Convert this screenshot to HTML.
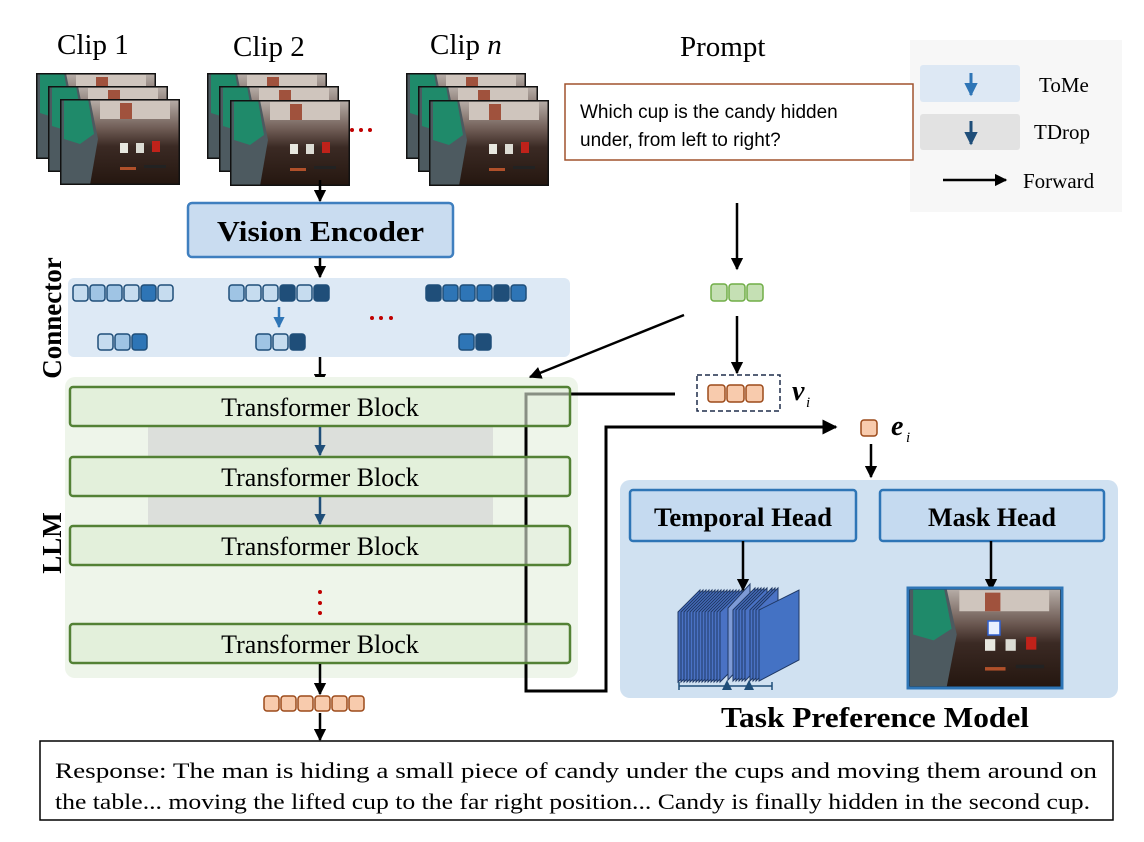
<!DOCTYPE html>
<html><head><meta charset="utf-8"><style>
html,body{margin:0;padding:0;background:#fff;}
svg{display:block;}
.s{font-family:"Liberation Serif",serif;}
.a{font-family:"Liberation Sans",sans-serif;}
</style></head><body>
<svg width="1144" height="842" viewBox="0 0 1144 842" xmlns="http://www.w3.org/2000/svg">
<defs>
<marker id="ar" viewBox="0 0 10 10" refX="9" refY="5" markerWidth="5" markerHeight="5" orient="auto"><path d="M0,0 L10,5 L0,10 z" fill="#000"/></marker>
<marker id="ab" viewBox="0 0 10 10" refX="9" refY="5" markerWidth="4.5" markerHeight="4.5" orient="auto"><path d="M0,0 L10,5 L0,10 z" fill="#2e75b6"/></marker>
<marker id="ad" viewBox="0 0 10 10" refX="9" refY="5" markerWidth="4.5" markerHeight="4.5" orient="auto"><path d="M0,0 L10,5 L0,10 z" fill="#1f4e79"/></marker>
<linearGradient id="tab" x1="0" y1="0" x2="0" y2="1"><stop offset="0" stop-color="#b9b0aa"/><stop offset="0.35" stop-color="#6d5a53"/><stop offset="0.55" stop-color="#3b2a24"/><stop offset="1" stop-color="#24160f"/></linearGradient>
<symbol id="fr" viewBox="0 0 120 86">
<rect x="0" y="0" width="120" height="86" fill="url(#tab)"/>
<rect x="40" y="2" width="70" height="18" fill="#cfc5bd"/>
<rect x="60" y="4" width="12" height="16" fill="#a0523d"/>
<path d="M0,0 L30,0 L38,40 L30,86 L0,86z" fill="#4d5a60"/>
<path d="M4,0 L28,0 L34,35 L20,45 L4,40z" fill="#1f8a6a"/>
<rect x="60" y="44" width="8" height="10" fill="#e8e8e0"/>
<rect x="76" y="44" width="8" height="10" fill="#dcdcd4"/>
<rect x="92" y="42" width="8" height="11" fill="#c0221a"/>
<rect x="60" y="68" width="16" height="3" fill="#b0502a"/>
<rect x="84" y="66" width="22" height="3" fill="#222"/>
<rect x="0" y="0" width="120" height="86" fill="none" stroke="#111" stroke-width="3"/>
</symbol>
</defs>

<text x="57" y="54" class="s" font-size="29">Clip 1</text>
<text x="233" y="56" class="s" font-size="29">Clip 2</text>
<text x="430" y="54" class="s" font-size="29">Clip <tspan font-style="italic">n</tspan></text>
<text x="680" y="56" class="s" font-size="29">Prompt</text>

<use href="#fr" x="36" y="73" width="120" height="86"/>
<use href="#fr" x="48" y="86" width="120" height="86"/>
<use href="#fr" x="60" y="99" width="120" height="86"/>
<use href="#fr" x="207" y="73" width="120" height="86"/>
<use href="#fr" x="219" y="86" width="120" height="86"/>
<use href="#fr" x="230" y="100" width="120" height="86"/>
<use href="#fr" x="406" y="73" width="120" height="86"/>
<use href="#fr" x="418" y="86" width="120" height="86"/>
<use href="#fr" x="429" y="100" width="120" height="86"/>
<g fill="#c00000"><circle cx="352" cy="130" r="2"/><circle cx="361" cy="130" r="2"/><circle cx="370" cy="130" r="2"/></g>

<!-- legend -->
<rect x="910" y="40" width="212" height="172" fill="#f7f7f7"/>
<rect x="920" y="65" width="100" height="37" rx="3" fill="#dde8f4"/>
<rect x="920" y="114" width="100" height="36" rx="3" fill="#e2e2e2"/>
<line x1="971" y1="73" x2="971" y2="95" stroke="#2e75b6" stroke-width="3" marker-end="url(#ab)"/>
<line x1="971" y1="121" x2="971" y2="144" stroke="#1f4e79" stroke-width="3" marker-end="url(#ad)"/>
<text x="1039" y="92" class="s" font-size="21">ToMe</text>
<text x="1034" y="139" class="s" font-size="21">TDrop</text>
<line x1="943" y1="180" x2="1006" y2="180" stroke="#000" stroke-width="2.5" marker-end="url(#ar)"/>
<text x="1023" y="188" class="s" font-size="21">Forward</text>

<!-- prompt box -->
<rect x="565" y="84" width="348" height="76" fill="#fff" stroke="#a0522d" stroke-width="1.5"/>
<text x="580" y="118" class="a" font-size="19">Which cup is the candy hidden</text>
<text x="580" y="146" class="a" font-size="19">under, from left to right?</text>

<line x1="320" y1="180" x2="320" y2="201" stroke="#000" stroke-width="2.5" marker-end="url(#ar)"/>
<rect x="188" y="203" width="265" height="54" rx="4" fill="#c9dcf0" stroke="#3f7fbf" stroke-width="2.5"/>
<text x="320.5" y="241" class="s" font-size="28" font-weight="bold" text-anchor="middle" textLength="207" lengthAdjust="spacingAndGlyphs">Vision Encoder</text>
<line x1="320" y1="258" x2="320" y2="277" stroke="#000" stroke-width="2.5" marker-end="url(#ar)"/>

<rect x="68" y="278" width="502" height="79" rx="6" fill="#dde9f5"/>
<g stroke="#1f4e79" stroke-width="1.5">
<rect x="73" y="285" width="15" height="16" rx="3" fill="#c6dcef"/><rect x="90" y="285" width="15" height="16" rx="3" fill="#9fc4e4"/><rect x="107" y="285" width="15" height="16" rx="3" fill="#9fc4e4"/><rect x="124" y="285" width="15" height="16" rx="3" fill="#c6dcef"/><rect x="141" y="285" width="15" height="16" rx="3" fill="#2e75b6"/><rect x="158" y="285" width="15" height="16" rx="3" fill="#c6dcef"/>
<rect x="229" y="285" width="15" height="16" rx="3" fill="#9fc4e4"/><rect x="246" y="285" width="15" height="16" rx="3" fill="#c6dcef"/><rect x="263" y="285" width="15" height="16" rx="3" fill="#c6dcef"/><rect x="280" y="285" width="15" height="16" rx="3" fill="#1f4e79"/><rect x="297" y="285" width="15" height="16" rx="3" fill="#c6dcef"/><rect x="314" y="285" width="15" height="16" rx="3" fill="#1f4e79"/>
<rect x="426" y="285" width="15" height="16" rx="3" fill="#1f4e79"/><rect x="443" y="285" width="15" height="16" rx="3" fill="#2e75b6"/><rect x="460" y="285" width="15" height="16" rx="3" fill="#2e75b6"/><rect x="477" y="285" width="15" height="16" rx="3" fill="#2e75b6"/><rect x="494" y="285" width="15" height="16" rx="3" fill="#1f4e79"/><rect x="511" y="285" width="15" height="16" rx="3" fill="#2e75b6"/>
<rect x="98" y="334" width="15" height="16" rx="3" fill="#c6dcef"/><rect x="115" y="334" width="15" height="16" rx="3" fill="#9fc4e4"/><rect x="132" y="334" width="15" height="16" rx="3" fill="#2e75b6"/>
<rect x="256" y="334" width="15" height="16" rx="3" fill="#9fc4e4"/><rect x="273" y="334" width="15" height="16" rx="3" fill="#c6dcef"/><rect x="290" y="334" width="15" height="16" rx="3" fill="#1f4e79"/>
<rect x="459" y="334" width="15" height="16" rx="3" fill="#2e75b6"/><rect x="476" y="334" width="15" height="16" rx="3" fill="#1f4e79"/>
</g>
<line x1="279" y1="307" x2="279" y2="327" stroke="#2e75b6" stroke-width="2.5" marker-end="url(#ab)"/>
<g fill="#c00000"><circle cx="372" cy="318" r="2"/><circle cx="381" cy="318" r="2"/><circle cx="391" cy="318" r="2"/></g>
<text transform="translate(61,318) rotate(-90)" class="s" font-size="27" font-weight="bold" text-anchor="middle">Connector</text>
<line x1="320" y1="357" x2="320" y2="385" stroke="#000" stroke-width="2.5" marker-end="url(#ar)"/>

<rect x="65" y="377" width="513" height="301" rx="10" fill="#eef5ea"/>
<text transform="translate(61,543) rotate(-90)" class="s" font-size="27" font-weight="bold" text-anchor="middle">LLM</text>
<rect x="148" y="426" width="345" height="31" fill="#dcdfdb"/>
<rect x="148" y="496" width="345" height="30" fill="#dcdfdb"/>
<path d="M675,394 L526,394 L526,691 L606,691 L606,427 L836,427" fill="none" stroke="#000" stroke-width="3" marker-end="url(#ar)"/>
<g fill="#e2efda" fill-opacity="0.6" stroke="#538135" stroke-width="2.5">
<rect x="70" y="387" width="500" height="39" rx="3"/>
<rect x="70" y="457" width="500" height="39" rx="3"/>
<rect x="70" y="526" width="500" height="39" rx="3"/>
<rect x="70" y="624" width="500" height="39" rx="3"/>
</g>
<g fill="#e2efda" fill-opacity="0.9">
<rect x="72" y="389" width="452" height="35"/><rect x="72" y="459" width="452" height="35"/><rect x="72" y="528" width="452" height="35"/><rect x="72" y="626" width="452" height="35"/>
</g>
<g class="s" font-size="26" text-anchor="middle">
<text x="320" y="416">Transformer Block</text>
<text x="320" y="486">Transformer Block</text>
<text x="320" y="555">Transformer Block</text>
<text x="320" y="653">Transformer Block</text>
</g>
<line x1="320" y1="427" x2="320" y2="455" stroke="#1f4e79" stroke-width="2.5" marker-end="url(#ad)"/>
<line x1="320" y1="497" x2="320" y2="524" stroke="#1f4e79" stroke-width="2.5" marker-end="url(#ad)"/>
<g fill="#c00000"><circle cx="320" cy="592" r="2"/><circle cx="320" cy="603" r="2"/><circle cx="320" cy="613" r="2"/></g>
<line x1="320" y1="664" x2="320" y2="694" stroke="#000" stroke-width="2.5" marker-end="url(#ar)"/>
<g fill="#f8cbad" stroke="#9c4a1a" stroke-width="1.5">
<rect x="264" y="696" width="15" height="15" rx="3"/><rect x="281" y="696" width="15" height="15" rx="3"/><rect x="298" y="696" width="15" height="15" rx="3"/><rect x="315" y="696" width="15" height="15" rx="3"/><rect x="332" y="696" width="15" height="15" rx="3"/><rect x="349" y="696" width="15" height="15" rx="3"/>
</g>
<line x1="320" y1="713" x2="320" y2="740" stroke="#000" stroke-width="2.5" marker-end="url(#ar)"/>

<rect x="40" y="741" width="1073" height="79" fill="#fff" stroke="#000" stroke-width="1.5"/>
<text x="55" y="778" class="s" font-size="22" textLength="1042" lengthAdjust="spacingAndGlyphs">Response: The man is hiding a small piece of candy under the cups and moving them around on</text>
<text x="55" y="809" class="s" font-size="22" textLength="1035" lengthAdjust="spacingAndGlyphs">the table... moving the lifted cup to the far right position... Candy is finally hidden in the second cup.</text>

<line x1="737" y1="203" x2="737" y2="269" stroke="#000" stroke-width="2.5" marker-end="url(#ar)"/>
<g fill="#c5e0b4" stroke="#70ad47" stroke-width="1.5">
<rect x="711" y="284" width="16" height="17" rx="3"/><rect x="729" y="284" width="16" height="17" rx="3"/><rect x="747" y="284" width="16" height="17" rx="3"/>
</g>
<line x1="737" y1="316" x2="737" y2="373" stroke="#000" stroke-width="2.5" marker-end="url(#ar)"/>
<line x1="684" y1="315" x2="530" y2="377" stroke="#000" stroke-width="2.5" marker-end="url(#ar)"/>
<rect x="697" y="375" width="83" height="36" fill="#fff" stroke="#1f2d4a" stroke-width="1.5" stroke-dasharray="5,3"/>
<g fill="#f8cbad" stroke="#9c4a1a" stroke-width="1.5">
<rect x="708" y="385" width="17" height="17" rx="3"/><rect x="727" y="385" width="17" height="17" rx="3"/><rect x="746" y="385" width="17" height="17" rx="3"/>
</g>
<text x="792" y="400" class="s" font-size="28" font-weight="bold" font-style="italic">v</text>
<text x="806" y="407" class="s" font-size="15" font-style="italic">i</text>
<rect x="861" y="420" width="16" height="16" rx="3" fill="#f8cbad" stroke="#9c4a1a" stroke-width="1.5"/>
<text x="891" y="435" class="s" font-size="28" font-weight="bold" font-style="italic">e</text>
<text x="906" y="442" class="s" font-size="15" font-style="italic">i</text>
<line x1="871" y1="444" x2="871" y2="477" stroke="#000" stroke-width="2.5" marker-end="url(#ar)"/>

<rect x="620" y="480" width="498" height="218" rx="10" fill="#d0e1f1"/>
<rect x="630" y="490" width="226" height="51" rx="3" fill="#c5daf0" stroke="#2e75b6" stroke-width="2.5"/>
<rect x="880" y="490" width="224" height="51" rx="3" fill="#c5daf0" stroke="#2e75b6" stroke-width="2.5"/>
<text x="743" y="526" class="s" font-size="26" font-weight="bold" text-anchor="middle" textLength="178" lengthAdjust="spacingAndGlyphs">Temporal Head</text>
<text x="992" y="526" class="s" font-size="26" font-weight="bold" text-anchor="middle" textLength="128" lengthAdjust="spacingAndGlyphs">Mask Head</text>
<g stroke="#1f3864" stroke-width="1" fill="#4a72c4">
<polygon points="678,612 700,590 700,660 678,682"/><polygon points="681,612 703,590 703,660 681,682"/><polygon points="684,612 706,590 706,660 684,682"/><polygon points="687,612 709,590 709,660 687,682"/><polygon points="690,612 712,590 712,660 690,682"/><polygon points="693,612 715,590 715,660 693,682"/><polygon points="696,612 718,590 718,660 696,682"/><polygon points="699,612 721,590 721,660 699,682"/><polygon points="702,612 724,590 724,660 702,682"/><polygon points="705,612 727,590 727,660 705,682"/><polygon points="708,612 730,590 730,660 708,682"/><polygon points="711,612 733,590 733,660 711,682"/><polygon points="714,612 736,590 736,660 714,682"/><polygon points="717,612 739,590 739,660 717,682"/><polygon points="720,612 742,590 742,660 720,682"/>
<polygon points="728,608 750,584 750,656 728,680" fill="#7d9ad6"/>
<polygon points="733,610 755,588 755,658 733,681"/><polygon points="736,610 758,588 758,658 736,681"/><polygon points="739,610 761,588 761,658 739,681"/><polygon points="742,610 764,588 764,658 742,681"/><polygon points="745,610 767,588 767,658 745,681"/><polygon points="750,610 772,588 772,658 750,681"/><polygon points="753,610 775,588 775,658 753,681"/><polygon points="756,610 778,588 778,658 756,681"/>
<polygon points="759,610 799,590 799,660 759,681" fill="#4472c4"/>
</g>
<line x1="743" y1="541" x2="743" y2="590" stroke="#000" stroke-width="2.5" marker-end="url(#ar)"/>
<line x1="991" y1="541" x2="991" y2="590" stroke="#000" stroke-width="2.5" marker-end="url(#ar)"/>
<line x1="679" y1="686" x2="772" y2="686" stroke="#1f4e79" stroke-width="1.5"/>
<line x1="679" y1="682" x2="679" y2="690" stroke="#1f4e79" stroke-width="1.5"/>
<line x1="772" y1="682" x2="772" y2="690" stroke="#1f4e79" stroke-width="1.5"/>
<polygon points="727,680 722,690 732,690" fill="#1f4e79"/>
<polygon points="749,680 744,690 754,690" fill="#1f4e79"/>
<svg x="908" y="588" width="154" height="100" viewBox="0 0 120 86" preserveAspectRatio="none"><use href="#fr" width="120" height="86"/></svg>
<rect x="908" y="588" width="154" height="100" fill="none" stroke="#2e75b6" stroke-width="3"/>
<rect x="988" y="621" width="12" height="14" fill="#e8f0ff" stroke="#3060d0" stroke-width="1.5"/>
<text x="875" y="727" class="s" font-size="28" font-weight="bold" text-anchor="middle" textLength="308" lengthAdjust="spacingAndGlyphs">Task Preference Model</text>
</svg>
</body></html>
